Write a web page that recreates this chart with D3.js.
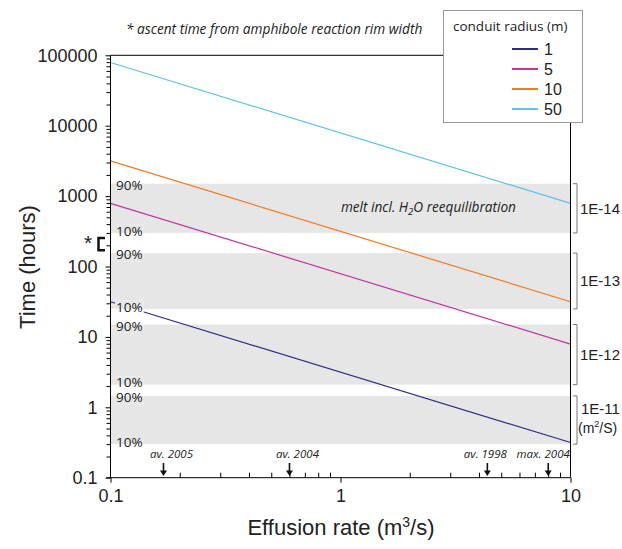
<!DOCTYPE html>
<html><head><meta charset="utf-8">
<script src="https://cdn.jsdelivr.net/npm/d3@7"></script>
<style>
html,body{margin:0;padding:0;background:#fff;}
svg text{font-family:"Liberation Sans",Arial,sans-serif;}
.myriad{font-family:"Open Sans",sans-serif !important;}
</style></head>
<body><svg id="chart" width="622" height="549"></svg>
<script>
// ---------- data ----------
const effusion = [0.1, 10];                 // m^3/s, line end points
const radii = ["1", "5", "10", "50"];       // conduit radius (m)
const timeR1 = [31.6, 0.316];
const timeR5 = [790, 7.9];
const timeR10 = [3160, 31.6];
const timeR50 = [79000, 790];
const seriesColors = ["#2e2d85", "#c0369f", "#f47b20", "#5ec2e6"];

const diffusivity = ["1E-14", "1E-13", "1E-12", "1E-11"];
const band90 = [1500, 155, 15, 1.45];       // hours, 90% edge
const band10 = [300, 25, 2.1, 0.3];         // hours, 10% edge

const ascentTime = [170, 255];              // hours (amphibole rims)

const eventLabels = ["av. 2005", "av. 2004", "av. 1998", "max. 2004"];
const eventRates = [0.17, 0.6, 4.35, 8.0];

const yMajor = [0.1, 1, 10, 100, 1000, 10000, 100000];
const xMajor = [0.1, 1, 10];

// ---------- layout ----------
const L = 110.5, R = 570.5, T = 55.3, B = 477.7;
const svg = d3.select("#chart");
const x = d3.scaleLog().domain([0.1, 10]).range([L, R]);
const y = d3.scaleLog().domain([0.1, 100000]).range([B, T]);

// bands
const bandG = svg.append("g");
diffusivity.forEach((d, i) => {
  bandG.append("rect").attr("x", L).attr("width", R - L)
    .attr("y", y(band90[i])).attr("height", y(band10[i]) - y(band90[i]))
    .attr("fill", "#e6e6e6");
});

// lines
const series = [timeR1, timeR5, timeR10, timeR50];
const line = d3.line().x(d => x(d[0])).y(d => y(d[1]));
series.forEach((s, i) => {
  svg.append("path").datum(effusion.map((q, j) => [q, s[j]]))
    .attr("d", line).attr("fill", "none")
    .attr("stroke", seriesColors[i]).attr("stroke-width", 1.2);
});

// band percent labels (with background matching what lies under them)
diffusivity.forEach((d, i) => {
  const top = y(band90[i]), bot = y(band10[i]);
  [["90%", top + 6.3], ["10%", bot + 2.8]].forEach(([t, by]) => {
    const g = svg.append("g");
    const txt = g.append("text").attr("class", "myriad").attr("x", 116).attr("y", by)
      .attr("font-size", 13.5).attr("fill", "#222").text(t);
    const bb = txt.node().getBBox();
    const x0 = bb.x - 1, w = bb.width + 2, y0 = bb.y + 3, y1 = bb.y + bb.height - 2;
    g.insert("rect", "text").attr("x", x0).attr("width", w).attr("y", y0).attr("height", y1 - y0).attr("fill", "#fff");
    const iy0 = Math.max(y0, top), iy1 = Math.min(y1, bot);
    if (iy1 > iy0) g.insert("rect", "text").attr("x", x0).attr("width", w).attr("y", iy0).attr("height", iy1 - iy0).attr("fill", "#e6e6e6");
  });
});

// melt label
const melt = svg.append("text").attr("class", "myriad").attr("x", 341).attr("y", 212)
  .attr("font-size", 13.6).attr("font-style", "italic").attr("fill", "#222");
melt.append("tspan").text("melt incl. H");
melt.append("tspan").attr("font-size", 9.5).attr("dy", 3).text("2");
melt.append("tspan").attr("dy", -3).text("O reequilibration");

// axes frame
const axisStroke = "#000";
svg.append("line").attr("x1", L).attr("x2", L).attr("y1", T).attr("y2", B).attr("stroke", axisStroke);
svg.append("line").attr("x1", L - 4).attr("x2", R).attr("y1", B).attr("y2", B).attr("stroke", axisStroke);
svg.append("line").attr("x1", L).attr("x2", 444).attr("y1", T).attr("y2", T).attr("stroke", axisStroke);
svg.append("line").attr("x1", R).attr("x2", R).attr("y1", 120).attr("y2", B).attr("stroke", axisStroke);

// y axis
const yMinor = [];
for (let e = -1; e < 5; e++) for (let k = 2; k <= 9; k++) yMinor.push(k * Math.pow(10, e));
const yAxMaj = svg.append("g").attr("transform", `translate(${L},0)`)
  .call(d3.axisLeft(y).tickValues(yMajor).tickSize(5).tickSizeOuter(0).tickPadding(8)
    .tickFormat(d => d3.format("")(+d.toPrecision(1)) ));
yAxMaj.select(".domain").remove();
yAxMaj.selectAll("text").attr("font-size", 18).attr("font-family", "Liberation Sans, Arial").attr("fill", "#222");
const yAxMin = svg.append("g").attr("transform", `translate(${L},0)`)
  .call(d3.axisLeft(y).tickValues(yMinor).tickSize(4).tickFormat(""));
yAxMin.select(".domain").remove();

// x axis
const xMinor = [];
for (let e = -1; e < 1; e++) for (let k = 2; k <= 9; k++) xMinor.push(k * Math.pow(10, e));
const xAxMaj = svg.append("g").attr("transform", `translate(0,${B})`)
  .call(d3.axisBottom(x).tickValues(xMajor).tickSize(5).tickSizeOuter(0).tickPadding(7)
    .tickFormat(d => String(d)));
xAxMaj.select(".domain").remove();
xAxMaj.selectAll("text").attr("font-size", 18).attr("font-family", "Liberation Sans, Arial").attr("fill", "#222");
const xAxMin = svg.append("g").attr("transform", `translate(0,${B})`)
  .call(d3.axisBottom(x).tickValues(xMinor).tickSize(-5).tickFormat(""));
xAxMin.select(".domain").remove();

// axis titles
const xt = svg.append("text").attr("x", 341).attr("y", 535).attr("text-anchor", "middle")
  .attr("font-size", 22).attr("fill", "#222");
xt.append("tspan").text("Effusion rate (m");
xt.append("tspan").attr("font-size", 14).attr("dy", -8).text("3");
xt.append("tspan").attr("dy", 8).text("/s)");
svg.append("text").attr("transform", "translate(35,267) rotate(-90)").attr("text-anchor", "middle")
  .attr("font-size", 22).attr("fill", "#222").text("Time (hours)");

// ascent-time bracket
svg.append("path")
  .attr("d", `M105,${y(ascentTime[1])}H98.5V${y(ascentTime[0])}H105`)
  .attr("fill", "none").attr("stroke", "#111").attr("stroke-width", 2.5);
svg.append("text").attr("x", 84).attr("y", 250).attr("font-size", 21).attr("fill", "#222").text("*");

// top note
svg.append("text").attr("class", "myriad").attr("x", 126).attr("y", 34).attr("font-size", 13.7)
  .attr("font-style", "italic").attr("fill", "#222").text("* ascent time from amphibole reaction rim width");

// right brackets
diffusivity.forEach((d, i) => {
  const top = y(band90[i]), bot = y(band10[i]);
  svg.append("path").attr("d", `M573,${top}H577V${bot}H573`).attr("fill", "none")
    .attr("stroke", "#777").attr("stroke-width", 1);
  const mid = (top + bot) / 2;
  if (i < 3) {
    svg.append("text").attr("x", 580).attr("y", mid + 5.5).attr("font-size", 15).attr("fill", "#222").text(d);
  } else {
    svg.append("text").attr("x", 581).attr("y", mid - 6).attr("font-size", 15).attr("fill", "#222").text(d);
    const u = svg.append("text").attr("x", 578).attr("y", mid + 13).attr("font-size", 14).attr("fill", "#222");
    u.append("tspan").text("(m");
    u.append("tspan").attr("font-size", 9).attr("dy", -6).text("2");
    u.append("tspan").attr("dy", 6).text("/S)");
  }
});

// event arrows
const labelShift = [8, 8, -2, -5];
eventRates.forEach((q, i) => {
  const ax = x(q);
  svg.append("line").attr("x1", ax).attr("x2", ax).attr("y1", 463).attr("y2", 472)
    .attr("stroke", "#111").attr("stroke-width", 1.6);
  svg.append("path").attr("d", `M${ax - 3.5},470.5L${ax + 3.5},470.5L${ax},476Z`).attr("fill", "#111");
  svg.append("text").attr("class", "myriad").attr("x", ax + labelShift[i]).attr("y", 458)
    .attr("text-anchor", "middle").attr("font-size", 11.5).attr("font-style", "italic")
    .attr("fill", "#222").text(eventLabels[i]);
});

// legend
const lg = svg.append("g");
lg.append("rect").attr("x", 443.5).attr("y", 10.5).attr("width", 139).attr("height", 112)
  .attr("fill", "#fff").attr("stroke", "#999").attr("stroke-width", 1);
lg.append("text").attr("class", "myriad").attr("x", 453).attr("y", 31).attr("font-size", 13.5)
  .attr("fill", "#222").text("conduit radius (m)");
radii.forEach((r, i) => {
  const ly = 49 + i * 20;
  lg.append("line").attr("x1", 512).attr("x2", 538).attr("y1", ly).attr("y2", ly)
    .attr("stroke", seriesColors[i]).attr("stroke-width", 2);
  lg.append("text").attr("x", 544).attr("y", ly + 6).attr("font-size", 16).attr("fill", "#222").text(r);
});
</script></body></html>
